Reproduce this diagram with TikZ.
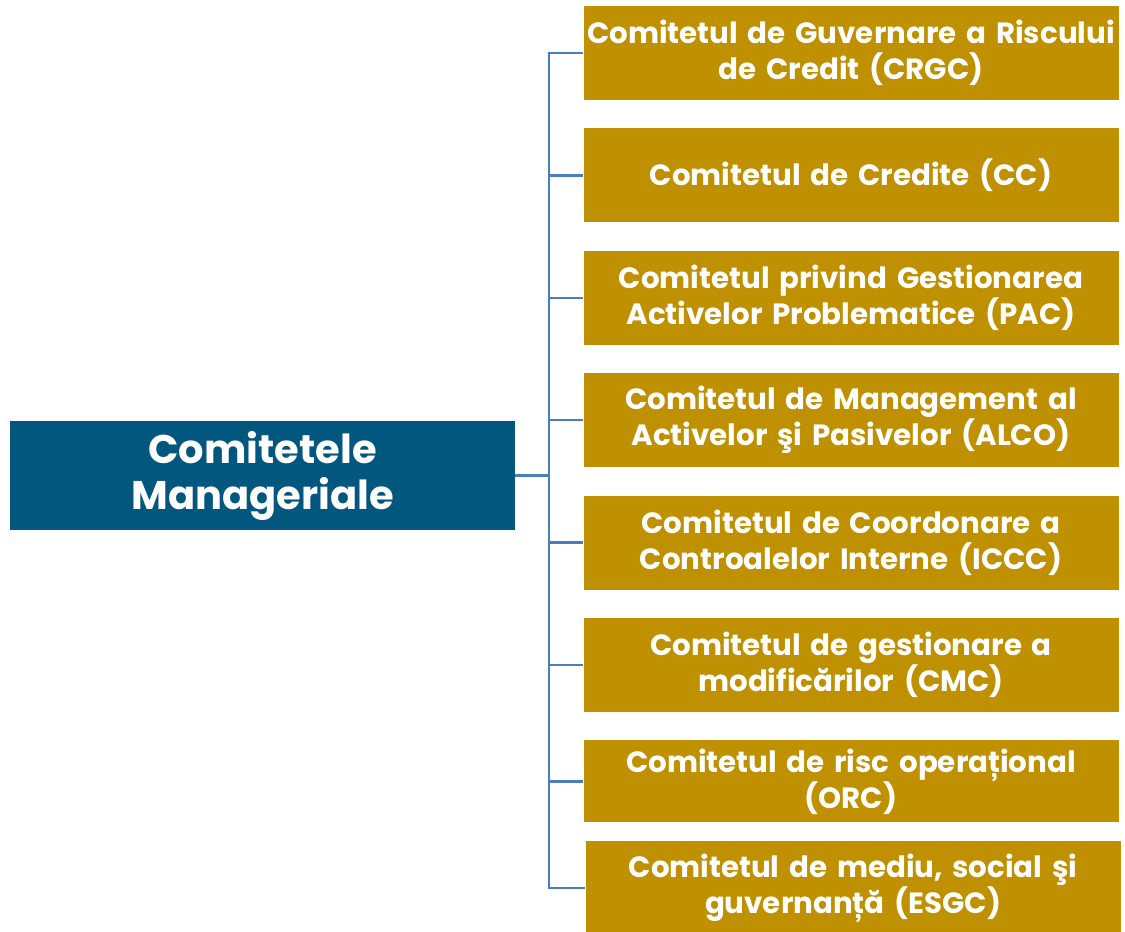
\documentclass[tikz,border=0pt]{standalone}
\usepackage{fontspec}
\setmainfont{Poppins}[UprightFont=* Bold, BoldFont=* Bold]
\usetikzlibrary{positioning}
\definecolor{gold}{HTML}{BF9000}
\definecolor{navy}{HTML}{02577E}
\definecolor{linkblue}{HTML}{4A7EBB}

\begin{document}
\begin{tikzpicture}[x=1pt, y=-1pt,
     node distance = 28pt and 28pt,
      cbox/.style = {rectangle, fill=gold, text=white, align=center,
                     minimum width=535pt, minimum height=94pt, inner sep=0pt,
                     text width=535pt, font=\fontsize{29.3}{36}\selectfont},
      mbox/.style = {rectangle, fill=navy, text=white, align=center,
                     minimum width=505pt, minimum height=109pt,
                     font=\fontsize{40}{46}\selectfont},
      link/.style = {draw=linkblue, line width=2.5pt}
                        ]
\useasboundingbox (0,0) rectangle (1125,932);
\node (main) [mbox] at (262.5,475.5) {Comitetele\\Manageriale};
\node (c1) [cbox] at (851,53) {Comitetul de Guvernare a Riscului\\de Credit (CRGC)};
\node (c2) [cbox,below =of c1] {Comitetul de Credite (CC)};
\node (c3) [cbox,below =of c2] {Comitetul privind Gestionarea\\Activelor Problematice (PAC)};
\node (c4) [cbox,below =of c3] {Comitetul de Management al\\Activelor şi Pasivelor (ALCO)};
\node (c5) [cbox,below =of c4] {Comitetul de Coordonare a\\Controalelor Interne (ICCC)};
\node (c6) [cbox,below =of c5] {Comitetul de gestionare a\\modificărilor (CMC)};
\node (c7) [cbox,below =of c6, minimum height=82pt] {Comitetul de risc operațional\\(ORC)};
\node (c8) [cbox,below =18pt of c7, xshift=2pt] {Comitetul de mediu, social şi\\guvernanță (ESGC)};
\coordinate (bus) at (549,475.5);
\draw[link] (main.east) -- (bus);
\foreach \n in {1,...,8}
  \draw[link] (bus) |- (c\n.west);
\end{tikzpicture}
\end{document}
